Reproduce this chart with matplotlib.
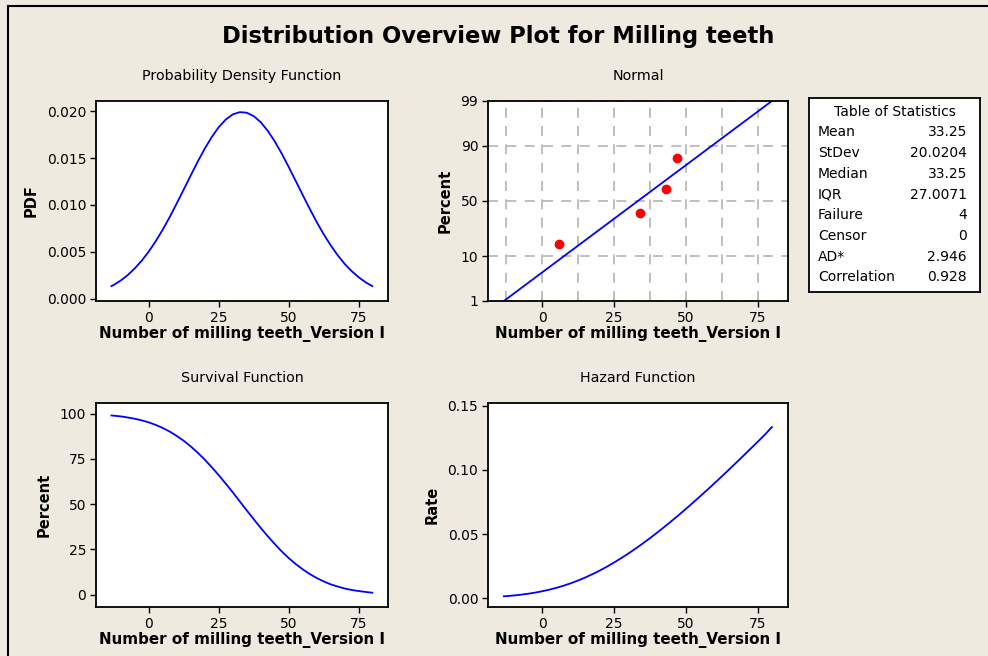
# distribution overview plot (minitab style) for the milling teeth data
import matplotlib
matplotlib.use("Agg")
import matplotlib.pyplot as plt
import numpy as np
from statistics import NormalDist

# curve values
x_curve = [-13.3, -12.5, -10, -7.5, -5, -2.5, 0, 2.5, 5, 7.5, 10, 12.5, 15, 17.5, 20, 22.5, 25, 27.5, 30,
           32.5, 35, 37.5, 40, 42.5, 45, 47.5, 50, 52.5, 55, 57.5, 60, 62.5, 65, 67.5, 70, 72.5, 75, 77.5, 79.8]
pdf_vals = [0.00134, 0.00146, 0.00193, 0.00251, 0.00322, 0.00405, 0.00502, 0.00613, 0.00736, 0.00871,
            0.01016, 0.01165, 0.01315, 0.01463, 0.01601, 0.01725, 0.01831, 0.01912, 0.01967,
            0.01991, 0.01985, 0.01948, 0.01883, 0.01791, 0.01678, 0.01547, 0.01404, 0.01255, 0.01105,
            0.00957, 0.00816, 0.00685, 0.00567, 0.00461, 0.00369, 0.00292, 0.00227, 0.00173, 0.00134]
survival_pct = [99.0, 98.9, 98.5, 97.9, 97.2, 96.3, 95.2, 93.8, 92.1, 90.1,
                87.7, 85.0, 81.9, 78.4, 74.6, 70.4, 66.0, 61.3, 56.5,
                51.5, 46.5, 41.6, 36.8, 32.2, 27.9, 23.8, 20.1, 16.8, 13.9,
                11.3, 9.1, 7.2, 5.6, 4.4, 3.3, 2.5, 1.9, 1.4, 1.0]
hazard_vals = [0.00135, 0.00148, 0.00196, 0.00257, 0.00331, 0.0042, 0.00528, 0.00653, 0.00799, 0.00967,
               0.01158, 0.0137, 0.01606, 0.01865, 0.02146, 0.0245, 0.02775, 0.0312, 0.03485,
               0.03868, 0.04267, 0.04684, 0.05117, 0.05562, 0.06023, 0.06491, 0.06971, 0.07467, 0.07967,
               0.08476, 0.0899, 0.09519, 0.1005, 0.1059, 0.1113, 0.1168, 0.1223, 0.1279, 0.1335]

# probability plot
teeth = [6, 34, 43, 47]
rank_pct = [15.9, 38.6, 61.4, 84.1]
fit_x = [-13.3, 79.8]
fit_pct = [1, 99]
prob_ticks = [1, 10, 50, 90, 99]

stat_names = ["Mean", "StDev", "Median", "IQR", "Failure", "Censor", "AD*", "Correlation"]
stat_values = ["33.25", "20.0204", "33.25", "27.0071", "4", "0", "2.946", "0.928"]

W, H = 988, 656
BG = "#EEEAE0"
BLUE = "#0000FF"
XLABEL = "Number of milling teeth_Version I"

plt.rcParams["font.family"] = ["DejaVu Sans"]

fig = plt.figure(figsize=(W / 100, H / 100), dpi=100, facecolor=BG)


def px_axes(l, t, r, b):
    return fig.add_axes([l / W, 1 - b / H, (r - l) / W, (b - t) / H])


def style(ax, title, ylabel):
    ax.set_facecolor("white")
    for s in ax.spines.values():
        s.set_linewidth(1.3)
        s.set_color("black")
    ax.tick_params(direction="out", length=4, width=1, labelsize=10, pad=3)
    ax.set_title(title, fontsize=10.3, pad=15)
    ax.set_xlabel(XLABEL, fontsize=10.9, fontweight="bold", labelpad=1)
    ax.set_ylabel(ylabel, fontsize=10.5, fontweight="bold", labelpad=6)
    ax.set_xlim(-18.8, 85.4)
    ax.set_xticks([0, 25, 50, 75])


def z(p):
    return [NormalDist().inv_cdf(v / 100) for v in p]


# pdf
ax1 = px_axes(96, 101, 388, 301)
ax1.plot(x_curve, pdf_vals, color=BLUE, lw=1.3)
style(ax1, "Probability Density Function", "PDF")
ax1.set_ylim(-0.00025, 0.0211)
ax1.set_yticks([0.0, 0.005, 0.010, 0.015, 0.020])
ax1.set_yticklabels(["0.000", "0.005", "0.010", "0.015", "0.020"])

# normal probability plot
ax2 = px_axes(488, 101, 788, 301)
ax2.plot(fit_x, z(fit_pct), color=BLUE, lw=1.3)
ax2.plot(teeth, z(rank_pct), "o", color="#FF0000", ms=6, zorder=3)
style(ax2, "Normal", "Percent")
ax2.set_ylim(z([1])[0], z([99])[0])
ax2.set_yticks(z(prob_ticks))
ax2.set_yticklabels([str(p) for p in prob_ticks])
ax2.set_xticks(np.arange(-12.5, 80, 12.5), minor=True)
ax2.tick_params(which="minor", length=0)
ax2.grid(True, which="both", color="#B4B4B4", ls=(0, (6, 5)), lw=1.2)
ax2.set_axisbelow(True)

# survival
ax3 = px_axes(96, 403, 388, 607)
ax3.plot(x_curve, survival_pct, color=BLUE, lw=1.3)
style(ax3, "Survival Function", "Percent")
ax3.set_ylim(-6.9, 105.9)
ax3.set_yticks([0, 25, 50, 75, 100])

# hazard
ax4 = px_axes(488, 403, 788, 607)
ax4.plot(x_curve, hazard_vals, color=BLUE, lw=1.3)
style(ax4, "Hazard Function", "Rate")
ax4.set_ylim(-0.007, 0.1523)
ax4.set_yticks([0.0, 0.05, 0.10, 0.15])
ax4.set_yticklabels(["0.00", "0.05", "0.10", "0.15"])

# table of statistics
tl, tt, tr, tb = 809, 98, 980, 292
axt = px_axes(tl, tt, tr, tb)
axt.set_xticks([])
axt.set_yticks([])
for s in axt.spines.values():
    s.set_linewidth(1.3)
fig.text((tl + tr) / 2 / W, 1 - 112 / H, "Table of Statistics", ha="center", va="center", fontsize=10)
for i, (n, v) in enumerate(zip(stat_names, stat_values)):
    yy = 1 - (132.5 + i * 20.7) / H
    fig.text(818 / W, yy, n, ha="left", va="center", fontsize=10)
    fig.text(967 / W, yy, v, ha="right", va="center", fontsize=10)

# main title and outer frame
fig.text(498 / W, 1 - 36 / H, "Distribution Overview Plot for Milling teeth",
         ha="center", va="center", fontsize=16.3, fontweight="bold")
fig.add_artist(plt.Line2D([8 / W, 8 / W], [0, 1 - 6 / H], color="black", lw=1.5))
fig.add_artist(plt.Line2D([8 / W, 1], [1 - 6 / H, 1 - 6 / H], color="black", lw=1.5))

fig.savefig("out.png", dpi=100, facecolor=BG)
